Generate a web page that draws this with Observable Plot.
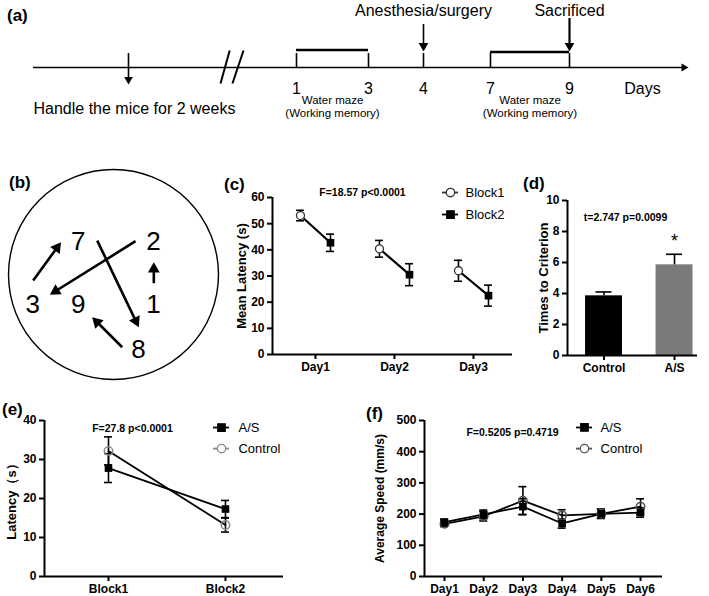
<!DOCTYPE html>
<html>
<head>
<meta charset="utf-8">
<script src="https://cdn.jsdelivr.net/npm/d3@7"></script>
<script src="https://cdn.jsdelivr.net/npm/@observablehq/plot@0.6"></script>
<style>
  body { margin: 0; background: #fff; }
  #fig { position: relative; width: 709px; height: 596px; overflow: hidden; background: #fff;
         font-family: Arial, "Liberation Sans", sans-serif; color: #000; }
  .panel { position: absolute; }
  .plabel { position: absolute; font-weight: bold; font-size: 17px; line-height: 1; }
</style>
</head>
<body>
<div id="fig"></div>
<script>
// ---------------- data ----------------
// (a) timeline
const timelineDays = [1, 3, 4, 7, 9];
const waterMazeBlocks = [{start: 1, end: 3}, {start: 7, end: 9}];
const timelineEvents = [{day: 4, label: "Anesthesia/surgery"}, {day: 9, label: "Sacrificed"}];
const handleText = "Handle the mice for 2 weeks";
const mazeText1 = "Water maze";
const mazeText2 = "(Working memory)";

// (b) maze platform locations and swim path
const mazeDigits = [
  {label: "7", x: -0.335, y: -0.31},
  {label: "2", x: 0.38, y: -0.31},
  {label: "3", x: -0.77, y: 0.285},
  {label: "9", x: -0.335, y: 0.285},
  {label: "1", x: 0.38, y: 0.285},
  {label: "8", x: 0.238, y: 0.708}
];
const mazeMoves = [
  {from: "1", to: "2", x1: 0.384, y1: 0.082, x2: 0.384, y2: -0.116},
  {from: "2", to: "3", x1: 0.21, y1: -0.314, x2: -0.606, y2: 0.19},
  {from: "3", to: "7", x1: -0.765, y1: 0.057, x2: -0.50, y2: -0.305},
  {from: "7", to: "8", x1: -0.155, y1: -0.32, x2: 0.241, y2: 0.497},
  {from: "8", to: "9", x1: 0.083, y1: 0.686, x2: -0.203, y2: 0.403}
];

// (c) mean latency
const cDays = ["Day1", "Day2", "Day3"];
const cYTicks = [0, 10, 20, 30, 40, 50, 60];
const cBlock1 = [53.1, 40.4, 32.0];
const cBlock1Err = [2.0, 3.2, 4.0];
const cBlock2 = [42.7, 30.5, 22.5];
const cBlock2Err = [3.3, 4.2, 4.0];
const cStat = "F=18.57 p<0.0001";

// (d) times to criterion
const dGroups = ["Control", "A/S"];
const dYTicks = [0, 2, 4, 6, 8, 10];
const dMeans = [3.85, 5.85];
const dErr = [0.25, 0.68];
const dStat = "t=2.747 p=0.0099";

// (e) latency by block
const eBlocks = ["Block1", "Block2"];
const eYTicks = [0, 10, 20, 30, 40];
const eAS = [27.8, 17.3];
const eASErr = [3.7, 2.2];
const eControl = [32.2, 13.2];
const eControlErr = [3.6, 1.8];
const eStat = "F=27.8 p<0.0001";

// (f) average speed
const fDays = ["Day1", "Day2", "Day3", "Day4", "Day5", "Day6"];
const fYTicks = [0, 100, 200, 300, 400, 500];
const fAS = [174, 199, 224, 170, 201, 205];
const fASErr = [10, 14, 25, 15, 14, 15];
const fControl = [169, 193, 243, 196, 201, 224];
const fControlErr = [9, 15, 45, 18, 15, 25];
const fStat = "F=0.5205 p=0.4719";

// ---------------- helpers ----------------
const fig = document.getElementById("fig");
const FONT = 'Arial, "Liberation Sans", sans-serif';
function place(left, top, node) {
  const div = document.createElement("div");
  div.className = "panel";
  div.style.left = left + "px";
  div.style.top = top + "px";
  div.appendChild(node);
  fig.appendChild(div);
}
function label(text, left, top) {
  const d = document.createElement("div");
  d.className = "plabel";
  d.style.left = left + "px";
  d.style.top = top + "px";
  d.textContent = text;
  fig.appendChild(d);
}
const baseStyle = {background: "none", fontFamily: FONT, fontSize: "12px", fontWeight: "bold", color: "black", overflow: "visible"};

function axes(xDomain, xTicks, xFormat, yTicks, yLabel, yLabelDx, yLabelSize) {
  return [
    Plot.axisY({ticks: yTicks, tickSize: 5, tickPadding: 3, strokeWidth: 2, label: null, fontSize: 12}),
    Plot.axisX({ticks: xTicks, tickFormat: xFormat, tickSize: 5, tickPadding: 3, strokeWidth: 2, label: null, fontSize: 12}),
    Plot.ruleY([0], {strokeWidth: 2}),
    Plot.ruleX([xDomain[0]], {strokeWidth: 2}),
    Plot.text([yLabel], {frameAnchor: "left", textAnchor: "middle", rotate: -90, dx: yLabelDx, fontSize: yLabelSize, text: d => d})
  ];
}
function errorBars(rows, x, capHalf, both = true) {
  const marks = [
    Plot.ruleX(rows, {x, y1: d => both ? d.mean - d.err : d.mean, y2: d => d.mean + d.err, strokeWidth: 1.6}),
    Plot.ruleY(rows, {x1: x, x2: x, y: d => d.mean + d.err, insetLeft: -capHalf, insetRight: -capHalf, strokeWidth: 1.6})
  ];
  if (both) marks.push(Plot.ruleY(rows, {x1: x, x2: x, y: d => d.mean - d.err, insetLeft: -capHalf, insetRight: -capHalf, strokeWidth: 1.6}));
  return marks;
}
function legendItem(x, xText, y, text, symbol, color, fill) {
  return [
    Plot.ruleY([y], {x1: x, x2: x, insetLeft: -8, insetRight: -8, stroke: color, strokeWidth: 1.8}),
    Plot.dot([y], {x: x, y: d => d, symbol, r: 4.2, fill, stroke: color, strokeWidth: 1.3}),
    Plot.text([text], {x: xText, y: y, text: d => d, textAnchor: "start", fontWeight: "normal", fontSize: 13})
  ];
}
// distance (px) from a d3 triangle symbol's centre to its tip, for a Plot dot of radius r
const tipOffset = r => 2 * Math.sqrt(Math.PI * r * r / (3 * Math.sqrt(3)));

// ---------------- (a) timeline ----------------
// schematic (not to scale) day axis: piecewise mapping of day numbers to the drawing
const dayPos = d3.scaleLinear()
  .domain([-8, -5, -3, -2, 1, 3, 4, 7, 9, 11, 12])
  .range([33, 128, 220, 243, 296, 368, 423, 490, 569, 642, 688]);
const aHead = 3.6;
place(0, 0, Plot.plot({
  width: 709, height: 130, margin: 0,
  x: {type: "identity"}, y: {type: "identity"}, axis: null,
  style: {...baseStyle, fontWeight: "normal", fontSize: "16px"},
  marks: [
    Plot.ruleY([67], {x1: dayPos(-8), x2: dayPos(12) - 6, strokeWidth: 1.6}),
    Plot.dot([0], {x: dayPos(12) - tipOffset(3), y: 67, symbol: "triangle", r: 3, rotate: 90, fill: "black"}),
    Plot.ruleX(timelineDays, {x: d => dayPos(d), y1: 53, y2: 67, strokeWidth: 1.6}),
    Plot.ruleY(waterMazeBlocks, {x1: d => dayPos(d.start), x2: d => dayPos(d.end), y: d => d.start === 1 ? 49.5 : 51.5, strokeWidth: 2.5}),
    Plot.text(timelineDays, {x: d => dayPos(d), y: 88, text: d => String(d), fontSize: 16}),
    Plot.text(["Days"], {x: dayPos(11), y: 88, text: d => d, fontSize: 16}),
    Plot.text(waterMazeBlocks, {x: d => dayPos((d.start + d.end) / 2), y: 100, text: () => mazeText1, fontSize: 11.5}),
    Plot.text(waterMazeBlocks, {x: d => dayPos((d.start + d.end) / 2), y: 113, text: () => mazeText2, fontSize: 11.5}),
    Plot.ruleX(timelineEvents, {x: d => dayPos(d.day), y1: d => d.day === 9 ? 18 : 24, y2: 44, strokeWidth: d => d.day === 9 ? 2.2 : 1.6}),
    Plot.dot(timelineEvents, {x: d => dayPos(d.day), y: 51 - tipOffset(aHead), symbol: "triangle", r: aHead, rotate: 180, fill: "black"}),
    Plot.text(timelineEvents, {x: d => dayPos(d.day), y: 10, text: "label", fontSize: 16}),
    Plot.ruleX([0], {x: dayPos(-5), y1: 53, y2: 78, strokeWidth: 1.6}),
    Plot.dot([0], {x: dayPos(-5), y: 84 - tipOffset(3.2), symbol: "triangle", r: 3.2, rotate: 180, fill: "black"}),
    Plot.text([handleText], {x: dayPos(-8), y: 108, text: d => d, textAnchor: "start", fontSize: 16}),
    Plot.link([{a: -3, b: -2.6}, {a: -2.48, b: -2}], {x1: d => dayPos(d.a), x2: d => dayPos(d.b), y1: 83, y2: 50, strokeWidth: 2})
  ]
}));
label("(a)", 7, 7);

// ---------------- (b) maze ----------------
const bXRange = [8, 218], bYRange = [8, 220];
const bKx = (bXRange[1] - bXRange[0]) / 2, bKy = (bYRange[1] - bYRange[0]) / 2; // px per unit
const bHead = 4.4;
const bMoves = mazeMoves.map(m => {
  const dx = (m.x2 - m.x1) * bKx, dy = (m.y2 - m.y1) * bKy, L = Math.hypot(dx, dy);
  const ux = dx / L, uy = dy / L, t = tipOffset(bHead);
  return {...m,
    hx: m.x2 - ux * t / bKx, hy: m.y2 - uy * t / bKy,
    sx: m.x2 - ux * (1.5 * t - 1) / bKx, sy: m.y2 - uy * (1.5 * t - 1) / bKy,
    angle: Math.atan2(ux, -uy) * 180 / Math.PI};
});
place(0, 160, Plot.plot({
  width: 230, height: 230,
  x: {domain: [-1, 1], range: bXRange}, y: {domain: [-1, 1], range: bYRange},
  axis: null,
  style: {...baseStyle, fontWeight: "normal"},
  marks: [
    Plot.dot([{x: 0, y: 0}], {x: "x", y: "y", r: 105, stroke: "black", strokeWidth: 1.4, fill: "none"}),
    Plot.text(mazeDigits, {x: "x", y: "y", text: "label", fontSize: 26}),
    Plot.link(bMoves, {x1: "x1", y1: "y1", x2: "sx", y2: "sy", strokeWidth: 2.6}),
    Plot.dot(bMoves, {x: "hx", y: "hy", symbol: "triangle", r: bHead, rotate: "angle", fill: "black"})
  ]
}));
label("(b)", 9, 174);

// ---------------- (c) ----------------
const cRows = [];
cDays.forEach((day, i) => {
  cRows.push({day, block: "Block1", pos: i + 1 - 0.19, mean: cBlock1[i], err: cBlock1Err[i]});
  cRows.push({day, block: "Block2", pos: i + 1 + 0.19, mean: cBlock2[i], err: cBlock2Err[i]});
});
const cXDomain = [0.456, 3.494];
place(220, 178, Plot.plot({
  width: 295, height: 205, marginLeft: 52, marginTop: 19, marginBottom: 29, marginRight: 3,
  x: {domain: cXDomain}, y: {domain: [0, 60]},
  style: baseStyle,
  marks: [
    ...axes(cXDomain, [1, 2, 3], d => cDays[d - 1], cYTicks, "Mean Latency (s)", -31, 13),
    ...errorBars(cRows, "pos", 4),
    Plot.line(cRows, {x: "pos", y: "mean", z: "day", strokeWidth: 2.2}),
    Plot.dot(cRows.filter(d => d.block === "Block1"), {x: "pos", y: "mean", symbol: "circle", r: 4, fill: "white", stroke: "#333", strokeWidth: 1.3}),
    Plot.dot(cRows.filter(d => d.block === "Block2"), {x: "pos", y: "mean", symbol: "square", r: 4.3, fill: "black"}),
    Plot.text([cStat], {x: 1.595, y: 61.9, text: d => d, fontSize: 10.5}),
    ...legendItem(2.709, 2.899, 61.9, "Block1", "circle", "#333", "white"),
    ...legendItem(2.709, 2.899, 53.5, "Block2", "square", "black", "black")
  ]
}));
label("(c)", 224, 176);

// ---------------- (d) ----------------
const dRows = dGroups.map((g, i) => ({group: g, pos: i + 1, mean: dMeans[i], err: dErr[i]}));
const dXDomain = [0.482, 2.326];
place(525, 178, Plot.plot({
  width: 184, height: 205, marginLeft: 42, marginTop: 22, marginBottom: 28, marginRight: 12,
  x: {domain: dXDomain}, y: {domain: [0, 10]},
  style: baseStyle,
  marks: [
    Plot.rectY(dRows, {x1: d => d.pos - 0.262, x2: d => d.pos + 0.262, y: "mean", fill: d => d.group === "Control" ? "#000" : "#7a7a7a"}),
    ...errorBars(dRows, "pos", 8, false),
    ...axes(dXDomain, [1, 2], d => dGroups[d - 1], dYTicks, "Times to Criterion", -24, 13),
    Plot.text([dStat], {x: 1.305, y: 8.9, text: d => d, fontSize: 10.5}),
    Plot.text(["*"], {x: 2, y: 7.4, text: d => d, fontSize: 18, fontWeight: "normal"})
  ]
}));
label("(d)", 523, 175);

// ---------------- (e) ----------------
const eRows = [];
eBlocks.forEach((b, i) => {
  eRows.push({block: b, group: "A/S", pos: i + 1, mean: eAS[i], err: eASErr[i]});
  eRows.push({block: b, group: "Control", pos: i + 1, mean: eControl[i], err: eControlErr[i]});
});
const eXDomain = [0.453, 2.496];
place(0, 398, Plot.plot({
  width: 290, height: 198, marginLeft: 44, marginTop: 22, marginBottom: 20, marginRight: 7,
  x: {domain: eXDomain}, y: {domain: [0, 40]},
  style: baseStyle,
  marks: [
    ...axes(eXDomain, [1, 2], d => eBlocks[d - 1], eYTicks, "Latency（s）", -33, 13),
    ...errorBars(eRows, "pos", 4),
    Plot.line(eRows, {x: "pos", y: "mean", z: "group", strokeWidth: 1.8}),
    Plot.dot(eRows.filter(d => d.group === "Control"), {x: "pos", y: "mean", symbol: "circle", r: 4.2, fill: "none", stroke: "#888", strokeWidth: 1.5}),
    Plot.dot(eRows.filter(d => d.group === "A/S"), {x: "pos", y: "mean", symbol: "square", r: 4.3, fill: "black"}),
    Plot.text([eStat], {x: 1.205, y: 37.9, text: d => d, fontSize: 10.5}),
    ...legendItem(1.966, 2.111, 38.2, "A/S", "square", "black", "black"),
    ...legendItem(1.966, 2.111, 32.8, "Control", "circle", "#888", "white")
  ]
}));
label("(e)", 2, 401);

// ---------------- (f) ----------------
const fRows = [];
fDays.forEach((day, i) => {
  fRows.push({day, group: "A/S", pos: i + 1, mean: fAS[i], err: fASErr[i]});
  fRows.push({day, group: "Control", pos: i + 1, mean: fControl[i], err: fControlErr[i]});
});
const fXDomain = [0.49, 6.56];
place(330, 398, Plot.plot({
  width: 379, height: 198, marginLeft: 94, marginTop: 22, marginBottom: 20, marginRight: 47,
  x: {domain: fXDomain}, y: {domain: [0, 500]},
  style: baseStyle,
  marks: [
    ...axes(fXDomain, [1, 2, 3, 4, 5, 6], d => fDays[d - 1], fYTicks, "Average Speed (mm/s)", -44, 12),
    ...errorBars(fRows, "pos", 4),
    Plot.line(fRows, {x: "pos", y: "mean", z: "group", strokeWidth: 1.8}),
    Plot.dot(fRows.filter(d => d.group === "Control"), {x: "pos", y: "mean", symbol: "circle", r: 4.2, fill: "none", stroke: "#555", strokeWidth: 1.5}),
    Plot.dot(fRows.filter(d => d.group === "A/S"), {x: "pos", y: "mean", symbol: "square", r: 4.3, fill: "black"}),
    Plot.text([fStat], {x: 2.735, y: 461, text: d => d, fontSize: 10.5}),
    ...legendItem(4.57, 4.98, 477.6, "A/S", "square", "black", "black"),
    ...legendItem(4.57, 4.98, 410, "Control", "circle", "#555", "white")
  ]
}));
label("(f)", 366, 405);
</script>
</body>
</html>
